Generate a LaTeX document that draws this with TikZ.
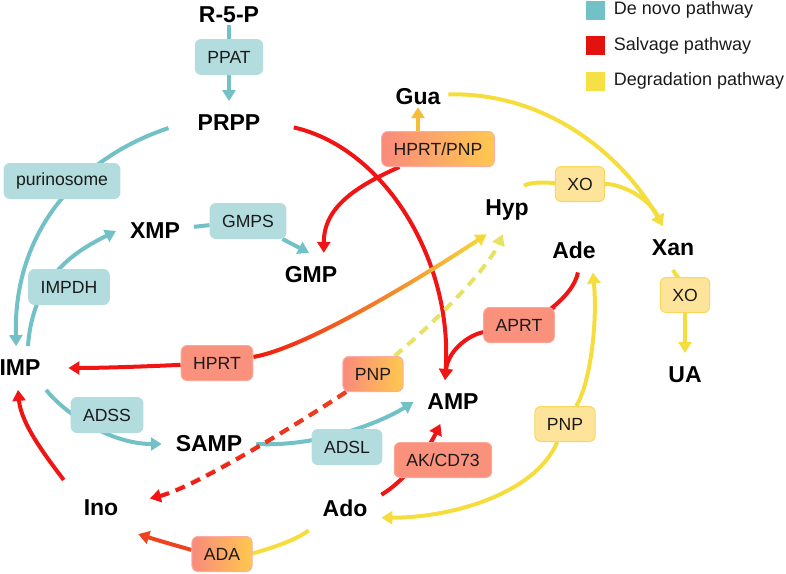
\documentclass[tikz,border=0pt]{standalone}
\usepackage{fontspec}
\setmainfont{Liberation Sans}
\usepackage{tikz}
\usetikzlibrary{arrows.meta, positioning, backgrounds, fadings}
\definecolor{DeNovo}{HTML}{72C1C7}
\definecolor{DeNovoBox}{HTML}{B3DCDF}
\definecolor{Salvage}{HTML}{F01414}
\definecolor{SalvageBox}{HTML}{F9917C}
\definecolor{Degrade}{HTML}{F6DD3E}
\definecolor{DegradeBox}{HTML}{FEE49B}
\definecolor{DegradeEdge}{HTML}{F7D85A}
\definecolor{MixRed}{HTML}{F98A7C}
\definecolor{MixOrange}{HTML}{FFC84E}
\definecolor{Ember}{HTML}{EC4420}
\definecolor{Amber}{HTML}{F5BE3A}
\definecolor{DashLime}{HTML}{E8E264}
\definecolor{Ink}{HTML}{1A1A1A}
\definecolor{LegendTeal}{HTML}{72C1C6}
\definecolor{LegendRed}{HTML}{E3120E}
\definecolor{LegendYellow}{HTML}{F5E045}
\tikzfading[name=fadein, left color=transparent!100, right color=transparent!0]
\tikzfading[name=fadeout, left color=transparent!0, right color=transparent!100]
\tikzset{
  metab/.style={font=\bfseries\fontsize{11.5}{13}\selectfont, text=black, inner sep=4pt, outer sep=3pt},
  tight/.style={inner ysep=1pt, outer sep=0pt},
  enzyme/.style={rounded corners=3pt, minimum height=17.5pt, inner xsep=6pt, inner ysep=2pt,
    font=\fontsize{8.8}{10}\selectfont, text=Ink, line width=0.5pt},
  denovobox/.style={enzyme, fill=DeNovoBox, draw=DeNovoBox},
  salvagebox/.style={enzyme, fill=SalvageBox, draw=SalvageBox!80!white},
  degradebox/.style={enzyme, fill=DegradeBox, draw=DegradeEdge},
  mixbox/.style={enzyme, left color=MixRed, right color=MixOrange, draw=MixRed!70!white},
  denovo/.style={draw=DeNovo, line width=2pt},
  salvage/.style={draw=Salvage, line width=2pt},
  degrade/.style={draw=Degrade, line width=2pt},
  arr/.style={-{Triangle[length=5.5pt, width=6.5pt]}},
  dashline/.style={dash pattern=on 5pt off 3.5pt},
  legsq/.style={minimum size=9.5pt, inner sep=0pt},
  legtext/.style={font=\fontsize{9}{11}\selectfont, text=Ink},
}

\begin{document}
\begin{tikzpicture}[x=0.5pt, y=-0.5pt]
  \useasboundingbox (0,0) rectangle (786,573);

  % Legend
  \foreach \col/\txt [count=\i] in {LegendTeal/De novo pathway, LegendRed/Salvage pathway, LegendYellow/Degradation pathway}{
    \node[legsq, fill=\col] (sq\i) at (595,{10+35.5*(\i-1)}) {};
    \node[legtext, right=1pt of sq\i] (leg\i) {\txt};
  }

  % Metabolites
  \node[metab, tight] (r5p) at (229,15) {R-5-P};
  \node[metab] (prpp) at (229,123) {PRPP};
  \node[metab, tight] (gua) at (418,97) {Gua};
  \node[metab] (xmp) at (155,231) {XMP};
  \node[metab] (gmp) at (311,275) {GMP};
  \node[metab] (imp) at (20,368) {IMP};
  \node[metab] (samp) at (209,444) {SAMP};
  \node[metab] (amp) at (453,402) {AMP};
  \node[metab, outer sep=6pt] (ino) at (101,508) {Ino};
  \node[metab] (ado) at (345,508) {Ado};
  \node[metab] (hyp) at (507,210) {Hyp};
  \node[metab] (ade) at (574,250) {Ade};
  \node[metab] (xan) at (673,248) {Xan};
  \node[metab] (ua) at (685,375) {UA};

  % Enzymes
  \node[denovobox] (ppat) at (229,57) {PPAT};
  \node[denovobox] (purinosome) at (62,181) {purinosome};
  \node[denovobox] (gmps) at (248,221) {GMPS};
  \node[denovobox] (impdh) at (69,287) {IMPDH};
  \node[denovobox] (adss) at (107,415) {ADSS};
  \node[denovobox] (adsl) at (347,447) {ADSL};
  \node[mixbox] (hprtpnp) at (438,149) {HPRT/PNP};
  \node[salvagebox] (hprt) at (217,363) {HPRT};
  \node[mixbox] (pnpmix) at (373,374) {PNP};
  \node[salvagebox] (akcd) at (443,460) {AK/CD73};
  \node[salvagebox] (aprt) at (519,325) {APRT};
  \node[degradebox] (pnp) at (565,424) {PNP};
  \node[mixbox] (ada) at (222,554) {ADA};
  \node[degradebox] (xoupper) at (580,184) {XO};
  \node[degradebox] (xolower) at (685,295) {XO};

  \begin{scope}[on background layer]
    % De novo pathway
    \draw[denovo] (r5p) -- (ppat);
    \draw[denovo, arr] (ppat) -- (prpp);
    \draw[denovo, arr, shorten <=8pt] (prpp.west) .. controls +(-105,35) and +(-3,-115) .. (imp.100);
    \draw[denovo, arr] (imp.70) .. controls +(5,-70) and +(-40,20) .. (xmp.west);
    \draw[denovo] (xmp) -- (gmps);
    \draw[denovo, arr] (gmps) -- (gmp.95);
    \draw[denovo, arr] (imp.-40) .. controls +(20,25) and +(-50,0) .. (samp.west);
    \draw[denovo, arr] (samp.east) .. controls +(60,3) and +(-35,22) .. (amp.west);

    % Salvage pathway
    \draw[salvage, arr, shorten <=10pt] (prpp.east) .. controls +(110,25) and +(8,-120) .. (amp.110);
    \draw[salvage, arr] (hprtpnp.-155) .. controls +(-45,20) and +(0,-45) .. (gmp.60);
    \draw[Amber, line width=2pt, arr] (hprtpnp.north -| gua) -- (gua.south);
    \draw[salvage, arr, shorten >=7pt] (hprt) .. controls +(-60,3) and +(50,0) .. (imp.east);
    \draw[degrade, arr] (hprt) .. controls +(90,-15) and +(-60,40) .. (hyp.-130);
    \draw[salvage, path fading=fadeout] (hprt) .. controls +(90,-15) and +(-60,40) .. (hyp.-130);
    \draw[DashLime, line width=2pt, dashline, arr] (pnpmix) .. controls +(60,-50) and +(-15,35) .. (hyp.-100);
    \draw[Salvage, line width=2pt, dashline, arr, shorten >=6pt] (pnpmix) .. controls +(-60,40) and +(60,-15) .. (ino.10);
    \draw[Ember, line width=2pt, dashline, shorten >=6pt, path fading=fadein] (pnpmix) .. controls +(-60,40) and +(60,-15) .. (ino.10);
    \draw[salvage, arr] (ado.20) .. controls +(25,-15) and +(-12,25) .. (amp.-120);
    \draw[salvage] (ade.-80) .. controls +(-5,25) and +(20,-10) .. (aprt);
    \draw[salvage, arr] (aprt) .. controls +(-50,10) and +(3,-30) .. (amp.110);
    \draw[salvage, arr] (ino.north west) .. controls +(-15,-20) and +(3,35) .. (imp.-95);
    \draw[degrade] (ado.south west) .. controls +(-20,15) and +(25,0) .. (ada);
    \draw[Ember, line width=2pt, arr] (ada) .. controls +(-30,-4) and +(25,8) .. (ino.-35);

    % Degradation pathway
    \draw[degrade, arr] (gua.5) .. controls +(100,-2) and +(-40,-70) .. (xan.115);
    \draw[degrade] (hyp.55) .. controls +(10,-6) and +(-15,0) .. (xoupper);
    \draw[degrade, arr] (xoupper) .. controls +(40,0) and +(-15,-30) .. (xan.115);
    \draw[degrade] (xan.south) .. controls +(3,6) and +(0,-8) .. (xolower);
    \draw[degrade, arr] (xolower) -- (ua);
    \draw[degrade, arr] (pnp) .. controls +(-30,70) and +(70,0) .. (ado.-15);
    \draw[degrade, arr] (pnp) .. controls +(25,-40) and +(5,50) .. (ade.-50);
  \end{scope}
\end{tikzpicture}
\end{document}
